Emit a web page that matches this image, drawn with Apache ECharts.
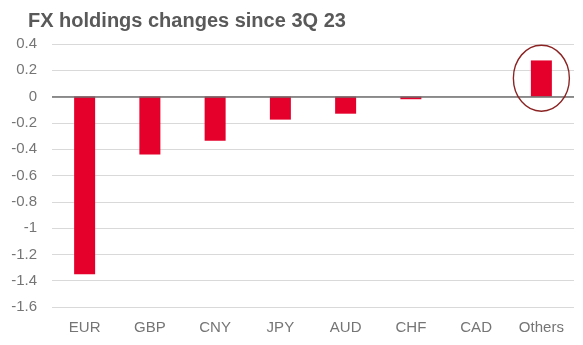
<!DOCTYPE html>
<html>
<head>
<meta charset="utf-8">
<script src="https://cdn.jsdelivr.net/npm/echarts@6/dist/echarts.min.js"></script>
<style>html,body{margin:0;padding:0;background:#fff}#c{width:583px;height:345px}</style>
</head>
<body>
<div id="c"></div>
<script>
var categories = ['EUR', 'GBP', 'CNY', 'JPY', 'AUD', 'CHF', 'CAD', 'Others'];
var values = [-1.35, -0.44, -0.335, -0.175, -0.13, -0.02, 0, 0.275];
var highlightCategory = 'Others';
var titleText = 'FX holdings changes since 3Q 23';

var chart = echarts.init(document.getElementById('c'));
chart.setOption({
  animation: false,
  title: {
    text: titleText,
    left: 23, top: 6,
    textStyle: {fontFamily: 'Liberation Sans, Arial', fontWeight: 'bold', fontSize: 20, color: '#595959'}
  },
  grid: {left: 52, right: 9, top: 44, bottom: 38},
  xAxis: {
    type: 'category',
    data: categories,
    axisLine: {show: false, onZero: false},
    axisTick: {show: false},
    axisLabel: {margin: 13, fontFamily: 'Liberation Sans, Arial', fontSize: 15, color: '#757575'}
  },
  yAxis: {
    type: 'value',
    min: -1.6, max: 0.4, interval: 0.2,
    axisLine: {show: false},
    axisTick: {show: false},
    splitLine: {lineStyle: {color: '#d9d9d9', width: 1}},
    axisLabel: {
      margin: 15, fontFamily: 'Liberation Sans, Arial', fontSize: 15, color: '#757575',
      formatter: function (v) { return String(Math.round(v * 10) / 10); }
    }
  },
  series: [{
    type: 'bar',
    data: values,
    barWidth: 21,
    itemStyle: {color: '#e4002b'},
    markLine: {
      silent: true,
      symbol: 'none',
      label: {show: false},
      lineStyle: {color: '#6e6e6e', width: 1.5, type: 'solid'},
      data: [{yAxis: 0}]
    },
    markPoint: {
      silent: true,
      symbol: 'circle',
      symbolSize: [56, 66],
      label: {show: false},
      itemStyle: {color: 'rgba(0,0,0,0)', borderColor: '#8b2323', borderWidth: 1.5},
      data: [{coord: [highlightCategory, 0.14]}]
    }
  }]
});
</script>
</body>
</html>
